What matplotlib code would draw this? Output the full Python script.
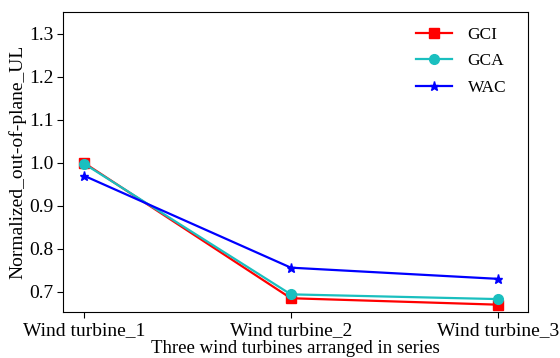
import matplotlib
matplotlib.use("Agg")
import matplotlib.pyplot as plt

turbines = ["Wind turbine_1", "Wind turbine_2", "Wind turbine_3"]
gci = [1.000, 0.685, 0.670]
gca = [0.998, 0.694, 0.683]
wac = [0.970, 0.756, 0.730]

plt.rcParams["font.family"] = ["Liberation Serif", "DejaVu Serif"]
plt.rcParams["font.size"] = 14

fig = plt.figure(figsize=(5.6, 3.58), dpi=100)
ax = fig.add_axes([63 / 560, 1 - 312 / 358, (528 - 63) / 560, (312 - 12) / 358])

x = range(len(turbines))
ax.plot(x, gci, color="red", marker="s", ms=6.5, lw=1.6, label="GCI")
ax.plot(x, gca, color="#1ABFBF", marker="o", ms=7, lw=1.6, label="GCA")
ax.plot(x, wac, color="blue", marker="*", ms=6.5, lw=1.6, label="WAC")

ax.set_xlim(-0.1, 2.145)
ax.set_ylim(0.653, 1.35)
ax.set_yticks([0.7, 0.8, 0.9, 1.0, 1.1, 1.2, 1.3])
ax.set_xticks(list(x))
ax.set_xticklabels(turbines)
ax.tick_params(direction="out", length=4, labelsize=14, pad=3)
ax.set_xlabel("Three wind turbines arranged in series", fontsize=13.5, labelpad=1)
ax.set_ylabel("Normalized_out-of-plane_UL", fontsize=14, labelpad=2)
ax.legend(loc="upper right", frameon=False, fontsize=12.5, handlelength=2.1,
          borderaxespad=0.45, labelspacing=0.6, handletextpad=0.9,
          bbox_to_anchor=(0.985, 1.0))

fig.savefig("out.png", dpi=100)
